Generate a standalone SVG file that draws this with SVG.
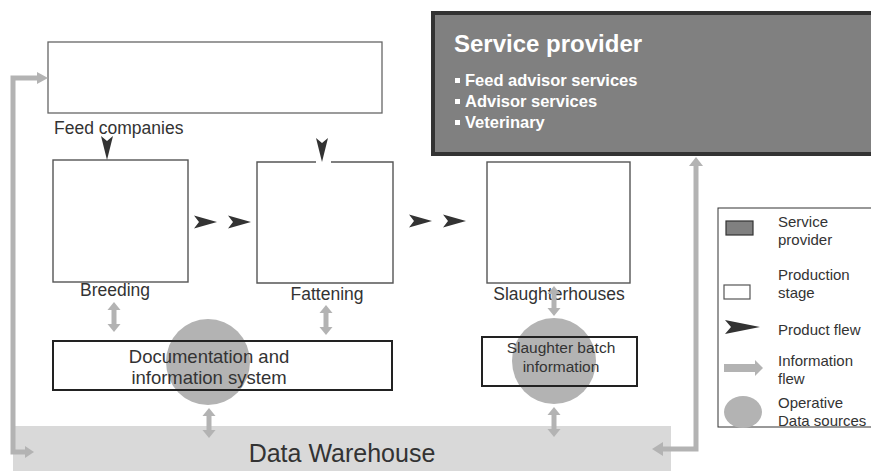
<svg xmlns="http://www.w3.org/2000/svg" xmlns:xlink="http://www.w3.org/1999/xlink" width="871" height="471" viewBox="0 0 871 471">
  <style>
    text { font-family: "Liberation Sans", Arial, sans-serif; fill: #333; }
    .stage { fill: #fff; stroke: #555; stroke-width: 1.4; }
    .lbl { font-size: 17.5px; text-anchor: middle; }
    .info { fill: #b3b3b3; }
    .infoline { fill: none; stroke: #b3b3b3; stroke-width: 5; }
    .prod { fill: #333; }
    .ods { fill: #b3b3b3; }
    .sysbox { fill: none; stroke: #222; stroke-width: 2; }
    .sp-title { font-size: 24px; font-weight: bold; fill: #fff; }
    .sp-item { font-size: 16.5px; font-weight: bold; fill: #fff; }
    .leg { font-size: 15px; }
  </style>
  <defs>
    <!-- two-headed vertical information arrow, centred on the origin -->
    <path id="dbl" class="info" d="M0,-15 L6.5,-7 L2.5,-7 L2.5,7 L6.5,7 L0,15 L-6.5,7 L-2.5,7 L-2.5,-7 L-6.5,-7 Z"/>
    <!-- product flow dart, pointing right, back centre at the origin -->
    <path id="dart" class="prod" d="M0,-6.5 L23,0 L0,6.5 L5,0 Z"/>
    <!-- product flow dart, pointing down -->
    <path id="dartDown" class="prod" d="M-6,0 L0,24 L6,0 L0,5 Z"/>
  </defs>

  <!-- Data warehouse band -->
  <g id="data-warehouse">
    <rect x="13" y="426" width="658" height="46" fill="#d9d9d9"/>
    <text x="342" y="462" font-size="25" text-anchor="middle">Data Warehouse</text>
  </g>

  <!-- Service provider -->
  <g id="service-provider">
    <rect x="433" y="13" width="450" height="141" fill="#808080" stroke="#333" stroke-width="4"/>
    <text class="sp-title" x="454" y="52">Service provider</text>
    <rect x="455" y="78" width="5" height="5" fill="#fff"/>
    <text class="sp-item" x="465" y="86">Feed advisor services</text>
    <rect x="455" y="99" width="5" height="5" fill="#fff"/>
    <text class="sp-item" x="465" y="107">Advisor services</text>
    <rect x="455" y="120" width="5" height="5" fill="#fff"/>
    <text class="sp-item" x="465" y="128">Veterinary</text>
  </g>

  <!-- Feed companies -->
  <g id="feed-companies">
    <rect x="48" y="42" width="334" height="71" fill="#fff" stroke="#666" stroke-width="1.3"/>
    <text x="54" y="134" font-size="17.5">Feed companies</text>
  </g>

  <!-- Production stages -->
  <g id="breeding">
    <rect class="stage" x="53" y="160" width="135" height="122"/>
    <text class="lbl" x="115" y="296">Breeding</text>
  </g>
  <g id="fattening">
    <path d="M316,162 H257 V283 H393 V162 H331" fill="#fff" stroke="#555" stroke-width="1.4"/>
    <text class="lbl" x="327" y="300">Fattening</text>
  </g>
  <g id="slaughterhouses">
    <rect class="stage" x="487" y="162" width="143" height="121"/>
    <text class="lbl" x="559" y="300">Slaughterhouses</text>
  </g>

  <!-- Documentation and information system -->
  <g id="doc-system">
    <rect x="53" y="341" width="339" height="49" fill="#fff"/>
    <ellipse class="ods" cx="208" cy="362" rx="42" ry="43"/>
    <rect class="sysbox" x="53" y="341" width="339" height="49"/>
    <text x="209" y="363" font-size="18.5" text-anchor="middle">Documentation and</text>
    <text x="209" y="384" font-size="18.5" text-anchor="middle">information system</text>
  </g>

  <!-- Slaughter batch information -->
  <g id="slaughter-batch">
    <rect x="482" y="337" width="155" height="49" fill="#fff"/>
    <ellipse class="ods" cx="554" cy="361" rx="42" ry="43"/>
    <rect class="sysbox" x="482" y="337" width="155" height="49" stroke-width="1.6"/>
    <text x="561" y="353" font-size="15.5" text-anchor="middle">Slaughter batch</text>
    <text x="561" y="372" font-size="15.5" text-anchor="middle">information</text>
  </g>

  <!-- Connectors -->
  <g id="connectors">
    <!-- product flow -->
    <use xlink:href="#dartDown" x="107" y="136"/>
    <use xlink:href="#dartDown" x="322" y="138"/>
    <use xlink:href="#dart" x="194" y="222"/>
    <use xlink:href="#dart" x="228" y="222"/>
    <use xlink:href="#dart" x="409" y="221"/>
    <use xlink:href="#dart" x="443" y="221"/>

    <!-- information flow between stages and systems -->
    <use xlink:href="#dbl" x="114" y="317"/>
    <use xlink:href="#dbl" x="326" y="320"/>
    <use xlink:href="#dbl" x="209" y="423"/>
    <use xlink:href="#dbl" x="554" y="301"/>
    <use xlink:href="#dbl" x="554" y="422"/>

    <!-- left loop: warehouse back to feed companies -->
    <path class="infoline" d="M38,78 H13 V452 H26"/>
    <path class="info" d="M37,72 L48,78 L37,84 Z"/>
    <path class="info" d="M25,446 L34,452 L25,458 Z"/>

    <!-- right loop: warehouse to service provider -->
    <path class="infoline" d="M696,165 V449 H662"/>
    <path class="info" d="M689,166 L696,157 L703,166 Z"/>
    <path class="info" d="M663,442 L652,449 L663,456 Z"/>
  </g>

  <!-- Legend -->
  <g id="legend">
    <rect x="718" y="208" width="170" height="219" fill="#fff" stroke="#333" stroke-width="1"/>
    <rect x="726" y="221" width="27" height="14" fill="#808080" stroke="#333" stroke-width="1.2"/>
    <text class="leg" x="778" y="227">Service</text>
    <text class="leg" x="778" y="245">provider</text>
    <rect x="724" y="285" width="26" height="14" fill="#fff" stroke="#555" stroke-width="1.2"/>
    <text class="leg" x="778" y="280">Production</text>
    <text class="leg" x="778" y="298">stage</text>
    <path class="prod" d="M725,320 L760,327 L725,334 L731,327 Z"/>
    <text class="leg" x="778" y="335">Product flew</text>
    <path class="info" d="M724,364 H755 V360 L763,368 L755,376 V372 H724 Z"/>
    <text class="leg" x="778" y="366">Information</text>
    <text class="leg" x="778" y="384">flew</text>
    <ellipse class="ods" cx="743" cy="412" rx="19" ry="16"/>
    <text class="leg" x="778" y="408">Operative</text>
    <text class="leg" x="778" y="426">Data sources</text>
  </g>
</svg>
